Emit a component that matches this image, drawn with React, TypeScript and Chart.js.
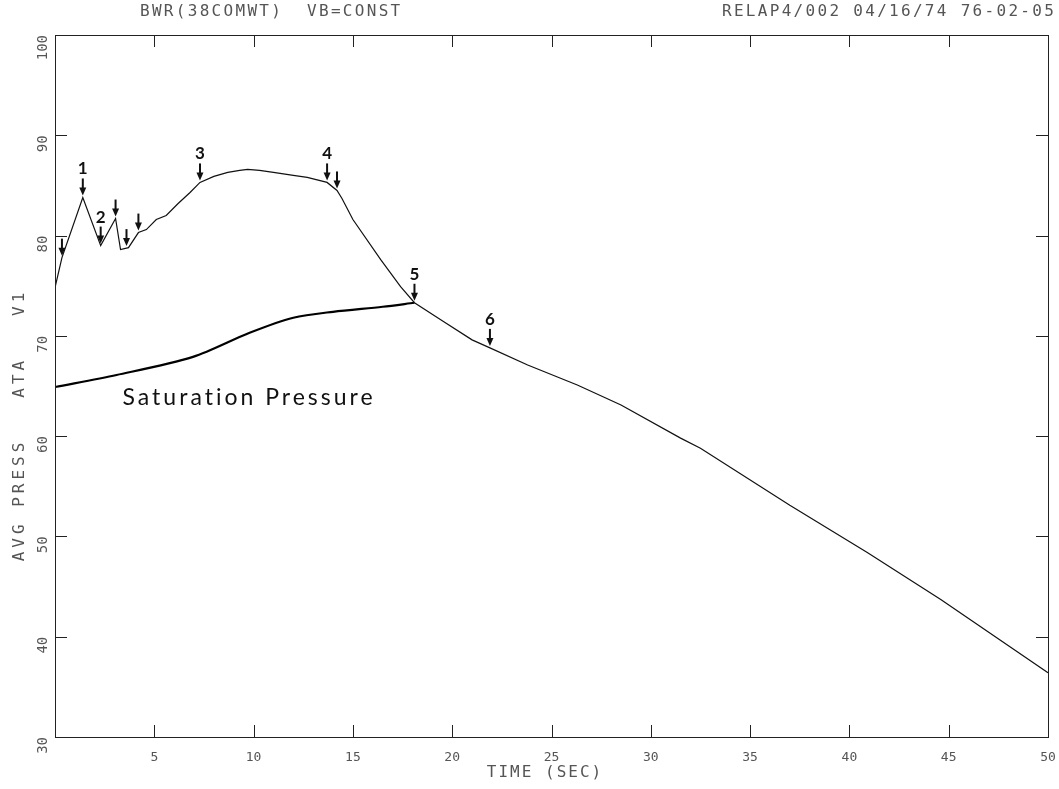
import React, { useEffect, useRef } from "react";
import { Chart, registerables } from "chart.js";

Chart.register(...registerables);

// ---- data ----
const timeSec = [
  0, 0.35, 1.4, 2.3, 3.05, 3.3, 3.7, 4.2, 4.6, 5.1, 5.6, 6.2, 6.8, 7.3, 8.0, 8.7,
  9.3, 9.7, 10.3, 11.0, 12.0, 12.7, 13.7, 14.2, 14.45, 15.0, 16.4, 17.4, 18.1,
  19.5, 21.0, 21.9, 23.8, 26.3, 28.5, 31.5, 32.5, 37.0, 40.9, 44.6, 50.0,
];
const avgPress = [
  74.8, 77.8, 83.8, 79.0, 81.7, 78.6, 78.8, 80.3, 80.6, 81.6, 82.0, 83.2, 84.3,
  85.3, 85.9, 86.3, 86.5, 86.6, 86.5, 86.3, 86.0, 85.8, 85.3, 84.5, 83.7, 81.6,
  77.6, 74.9, 73.3, 71.5, 69.6, 68.8, 67.1, 65.1, 63.1, 59.8, 58.8, 53.1, 48.4,
  43.7, 36.4,
];
const satTime = [0, 3.1, 6.95, 9.8, 12.0, 14.0, 16.5, 18.1];
const satPress = [64.9, 66.1, 67.9, 70.3, 71.8, 72.4, 72.9, 73.3];

const xTickValues = [0, 5, 10, 15, 20, 25, 30, 35, 40, 45, 50];
const yTickValues = [30, 40, 50, 60, 70, 80, 90, 100];

const arrowTimes = [0.35, 1.4, 2.3, 3.05, 3.6, 4.2, 7.3, 13.7, 14.2, 18.1, 21.9];
const noteTimes = [1.4, 2.3, 7.3, 13.7, 18.1, 21.9];
const noteLabels = ["1", "2", "3", "4", "5", "6"];
const curveNote = "Saturation Pressure";
const curveNoteTime = 3.4;
const curveNotePress = 63.8;

const titleLeft = "BWR(38COMWT)  VB=CONST";
const titleRight = "RELAP4/002 04/16/74 76-02-05";
const yTitle = "AVG PRESS   ATA   V1";
const xTitle = "TIME (SEC)";

const PLOT_FONT = "'DejaVu Sans Mono', 'Liberation Mono', monospace";
const HAND_FONT = "'Lato', 'DejaVu Sans', sans-serif";
const TEXT_COLOR = "#555";

function pressAt(t: number): number {
  for (let i = 0; i < timeSec.length - 1; i++) {
    if (t >= timeSec[i] && t <= timeSec[i + 1]) {
      const f = (t - timeSec[i]) / (timeSec[i + 1] - timeSec[i]);
      return avgPress[i] + f * (avgPress[i + 1] - avgPress[i]);
    }
  }
  return avgPress[avgPress.length - 1];
}

const decorPlugin = {
  id: "decor",
  afterDraw(chart: any) {
    const { ctx, chartArea } = chart;
    const xs = chart.scales.x;
    const ys = chart.scales.y;
    ctx.save();

    // frame
    ctx.strokeStyle = "#222";
    ctx.lineWidth = 1;
    ctx.strokeRect(chartArea.left + 0.5, chartArea.top + 0.5, chartArea.right - chartArea.left, chartArea.bottom - chartArea.top);

    // inward tick marks
    ctx.beginPath();
    xTickValues.slice(1, -1).forEach((v) => {
      const px = Math.round(xs.getPixelForValue(v)) + 0.5;
      ctx.moveTo(px, chartArea.top);
      ctx.lineTo(px, chartArea.top + 12);
      ctx.moveTo(px, chartArea.bottom);
      ctx.lineTo(px, chartArea.bottom - 12);
    });
    yTickValues.slice(1, -1).forEach((v) => {
      const py = Math.round(ys.getPixelForValue(v)) + 0.5;
      ctx.moveTo(chartArea.left, py);
      ctx.lineTo(chartArea.left + 12, py);
      ctx.moveTo(chartArea.right, py);
      ctx.lineTo(chartArea.right - 12, py);
    });
    ctx.stroke();

    // arrows
    ctx.strokeStyle = "#111";
    ctx.fillStyle = "#111";
    arrowTimes.forEach((t) => {
      const px = xs.getPixelForValue(t);
      const tip = ys.getPixelForValue(pressAt(t)) - 2;
      ctx.lineWidth = 2;
      ctx.beginPath();
      ctx.moveTo(px, tip - 17);
      ctx.lineTo(px, tip - 5);
      ctx.stroke();
      ctx.beginPath();
      ctx.moveTo(px - 3.5, tip - 8);
      ctx.lineTo(px + 3.5, tip - 8);
      ctx.lineTo(px, tip);
      ctx.closePath();
      ctx.fill();
    });

    // handwritten numbers
    ctx.font = `bold 17px ${HAND_FONT}`;
    ctx.textAlign = "center";
    ctx.textBaseline = "alphabetic";
    noteTimes.forEach((t, i) => {
      const px = xs.getPixelForValue(t);
      const tip = ys.getPixelForValue(pressAt(t)) - 2;
      ctx.fillText(noteLabels[i], px, tip - 21);
    });

    // curve label
    ctx.font = `23px ${HAND_FONT}`;
    ctx.textAlign = "left";
    ctx.textBaseline = "middle";
    (ctx as any).letterSpacing = "3px";
    ctx.fillText(curveNote, xs.getPixelForValue(curveNoteTime), ys.getPixelForValue(curveNotePress));

    // plotter titles
    ctx.fillStyle = TEXT_COLOR;
    ctx.font = `16px ${PLOT_FONT}`;
    (ctx as any).letterSpacing = "2.3px";
    ctx.textBaseline = "middle";
    ctx.textAlign = "left";
    ctx.fillText(titleLeft, 140, 12);
    ctx.fillText(titleRight, 722, 12);

    // y-axis title (rotated)
    ctx.save();
    ctx.translate(20, 425);
    ctx.rotate(-Math.PI / 2);
    ctx.textAlign = "center";
    ctx.font = `16px ${PLOT_FONT}`;
    (ctx as any).letterSpacing = "4px";
    ctx.fillText(yTitle, 0, 0);
    ctx.restore();

    // x-axis title
    ctx.textAlign = "center";
    (ctx as any).letterSpacing = "2px";
    ctx.fillText(xTitle, 545, 773);

    ctx.restore();
  },
};

export default function App() {
  const ref = useRef<HTMLCanvasElement | null>(null);

  useEffect(() => {
    document.body.style.margin = "0";
    const canvas = ref.current;
    if (!canvas) return;
    const chart = new Chart(canvas, {
      type: "line",
      data: {
        datasets: [
          {
            label: "AVG PRESS",
            data: timeSec.map((t, i) => ({ x: t, y: avgPress[i] })),
            borderColor: "#111",
            borderWidth: 1.2,
            pointRadius: 0,
            tension: 0,
            fill: false,
          },
          {
            label: "Saturation Pressure",
            data: satTime.map((t, i) => ({ x: t, y: satPress[i] })),
            borderColor: "#000",
            borderWidth: 2.2,
            pointRadius: 0,
            tension: 0.3,
            fill: false,
          },
        ],
      },
      options: {
        responsive: false,
        animation: false,
        layout: { padding: { top: 35, right: 11, left: 0, bottom: 0 } },
        plugins: {
          legend: { display: false },
          tooltip: { enabled: false },
          title: { display: false },
        },
        scales: {
          x: {
            type: "linear",
            min: 0,
            max: 50,
            afterBuildTicks: (s: any) => {
              s.ticks = xTickValues.map((v) => ({ value: v }));
            },
            afterFit: (s: any) => {
              s.height = 52;
              s.paddingLeft = 0;
              s.paddingRight = 0;
            },
            ticks: {
              callback: (v: any) => (v === 0 ? "" : String(v)),
              color: TEXT_COLOR,
              font: { family: PLOT_FONT, size: 13 },
              padding: 13,
              maxRotation: 0,
              minRotation: 0,
            },
            grid: { display: false, drawTicks: false },
            border: { display: true, color: "#222" },
          },
          y: {
            type: "linear",
            min: 30,
            max: 100,
            afterBuildTicks: (s: any) => {
              s.ticks = yTickValues.map((v) => ({ value: v }));
            },
            afterFit: (s: any) => {
              s.width = 55;
              s.paddingTop = 0;
              s.paddingBottom = 0;
            },
            ticks: {
              color: TEXT_COLOR,
              font: { family: PLOT_FONT, size: 14 },
              padding: 12,
              minRotation: 90,
              maxRotation: 90,
            },
            grid: { display: false, drawTicks: false },
            border: { display: true, color: "#222" },
          },
        },
      },
      plugins: [decorPlugin],
    } as any);
    return () => chart.destroy();
  }, []);

  return (
    <div style={{ position: "absolute", left: 0, top: 0, width: 1059, height: 789, background: "#fff" }}>
      <canvas ref={ref} width={1059} height={789} style={{ display: "block" }} />
    </div>
  );
}
